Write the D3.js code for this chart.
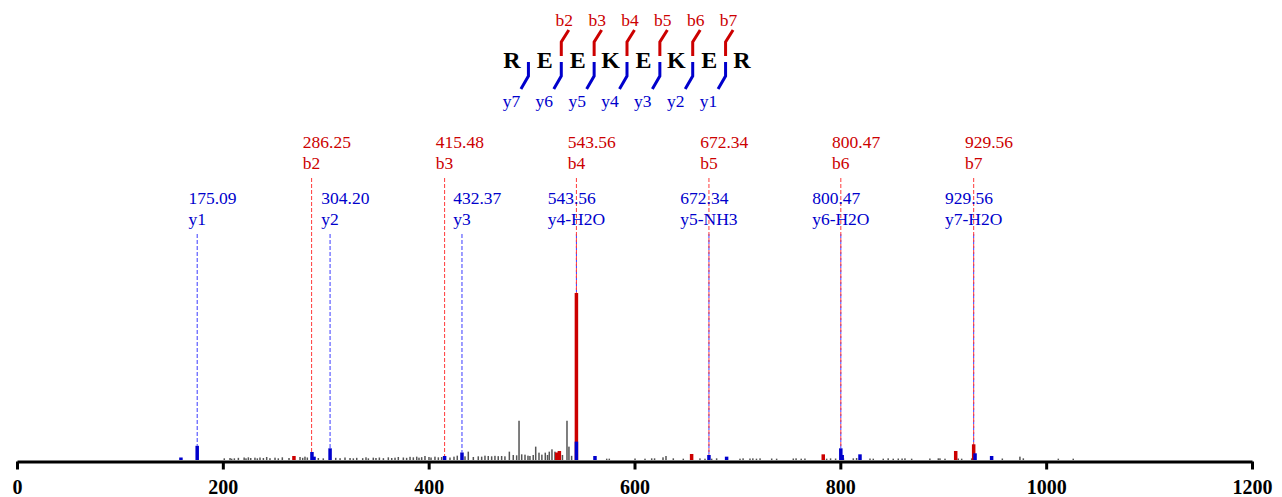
<!DOCTYPE html>
<html>
<head>
<meta charset="utf-8">
<script src="https://cdn.jsdelivr.net/npm/d3@7"></script>
<style>
  html, body { margin: 0; padding: 0; background: #fff; }
  svg { display: block; }
  text { font-family: "Liberation Serif", "Times New Roman", serif; }
</style>
</head>
<body>
<svg id="chart" width="1282" height="497"></svg>
<script>
// ---------- data ----------
const axisTicks = [0, 200, 400, 600, 800, 1000, 1200];

const residues = ["R", "E", "E", "K", "E", "K", "E", "R"];
const bHeaderLabels = ["b2", "b3", "b4", "b5", "b6", "b7"];
const bHeaderGaps = [1, 2, 3, 4, 5, 6];
const yHeaderLabels = ["y7", "y6", "y5", "y4", "y3", "y2", "y1"];
const yHeaderGaps = [0, 1, 2, 3, 4, 5, 6];

// annotated b ions (red)
const bMz = [286.25, 415.48, 543.56, 672.34, 800.47, 929.56];
const bNames = ["b2", "b3", "b4", "b5", "b6", "b7"];
const bLineInt = [4.8, 2.4, 100, 3.0, 7.0, 9.4];

// annotated y ions (blue)
const yMz = [175.09, 304.20, 432.37, 543.56, 672.34, 800.47, 929.56];
const yNames = ["y1", "y2", "y3", "y4-H2O", "y5-NH3", "y6-H2O", "y7-H2O"];
const yLineInt = [8.5, 7.0, 4.5, 11, 3.0, 7.0, 4.0];

// matched peaks
const redPeakMz  = [269.1, 524.5, 527.0, 543.56, 655.5, 783.4, 912.1, 929.56];
const redPeakInt = [2.4, 4.5, 5.4, 100, 3.6, 3.4, 5.4, 9.4];
const bluePeakMz  = [159.3, 175.09, 286.6, 288.6, 304.20, 415.48, 432.37, 543.56, 561.6, 672.34, 689.5, 800.47, 801.8, 819.1, 930.9, 947.0];
const bluePeakInt = [1.5, 8.5, 4.8, 2.0, 7.0, 2.4, 4.5, 11, 2.4, 3.0, 2.0, 7.0, 3.0, 3.4, 4.0, 2.4];

// unmatched peaks (grey)
const grayMz = [201.4, 207.0, 208.6, 211.2, 215.1, 220.7, 222.5, 224.8, 227.1, 231.2, 233.5, 236.1, 239.4, 242.6, 245.8, 250.7, 253.9, 257.8, 264.3, 275.0, 277.6, 279.8, 282.1, 292.8, 297.6, 309.7, 313.9, 318.7, 323.6, 326.8,
  330.1, 335.9, 339.1, 341.4, 346.2, 348.8, 352.1, 356.0, 360.8, 364.1, 367.3, 370.5, 375.4, 378.6, 381.9, 385.1, 388.4, 390.6, 393.2, 396.4, 400.3, 402.3, 406.1, 409.4, 412.6, 420.7, 424.6, 427.8,
  435.3, 438.5, 443.4, 448.2, 451.5, 454.7, 457.9, 461.2, 464.4, 467.6, 470.9, 474.1, 478.4, 482.2, 485.5, 487.8, 490.4, 493.6, 496.5, 498.4, 501.6, 504.0, 507.2, 510.0, 513.3, 515.5, 517.2, 519.8, 522.7, 530.0, 534.4, 536.3, 538.9,
  573.0, 575.5, 600.5, 610.2, 616.7, 619.5, 627.7, 630.6, 637.7, 647.4, 663.6, 668.5, 675.0, 679.8, 702.5, 705.5, 712.2, 715.0, 718.5, 722.0, 733.3, 738.1, 754.3, 757.0, 762.0, 765.6, 786.7, 790.5, 795.4, 803.0, 812.6, 815.8, 828.8, 832.0,
  841.7, 846.5, 851.4, 856.3, 860.0, 862.8, 869.3, 887.0, 895.2, 896.8, 901.7, 914.6, 917.9, 927.6, 957.4, 974.5, 977.8, 1011.8, 1026.3];
const grayInt = [1.0, 1.2, 0.8, 1.0, 1.3, 1.5, 1.0, 1.6, 1.2, 1.4, 1.0, 1.5, 1.2, 1.8, 1.1, 1.4, 1.0, 1.6, 1.2, 1.8, 1.3, 2.0, 1.5, 1.2, 1.0, 1.3, 1.1, 1.5, 1.2, 1.0,
  1.3, 1.1, 1.6, 1.0, 1.4, 1.2, 1.5, 1.1, 1.6, 1.2, 1.4, 1.8, 1.5, 1.3, 1.9, 1.6, 2.0, 1.4, 1.7, 2.4, 1.8, 1.5, 2.0, 1.6, 1.8, 1.5, 2.0, 2.6,
  2.2, 5.0, 1.8, 2.2, 2.0, 2.6, 2.4, 2.2, 2.5, 2.3, 2.4, 2.2, 5.0, 3.0, 2.8, 23.5, 3.4, 3.2, 2.6, 2.4, 3.0, 8.0, 4.4, 3.2, 4.4, 3.0, 5.0, 6.4, 5.0, 3.0, 23.5, 8.0, 2.5,
  0.8, 0.8, 0.9, 0.8, 1.0, 1.0, 1.6, 2.4, 1.0, 0.8, 1.0, 0.8, 0.8, 1.0, 0.8, 1.0, 0.9, 1.0, 0.8, 1.0, 0.9, 0.8, 0.9, 1.0, 0.8, 0.9, 0.8, 1.0, 0.9, 1.0, 1.0, 1.2, 0.9, 0.8,
  0.8, 1.0, 0.8, 0.9, 0.9, 1.0, 0.8, 0.9, 1.0, 1.0, 0.8, 0.9, 0.8, 1.0, 0.9, 2.0, 1.0, 0.8, 0.8];

// ---------- drawing ----------
const RED = "#cc0000", BLUE = "#0000cc", GRAY = "#555555";
const RED_DASH = "#ff3b3b", BLUE_DASH = "#3b3bff";
const LABEL_SIZE = 17.5;
const svg = d3.select("#chart");

const x = d3.scaleLinear().domain([0, 1200]).range([17, 1252]);
const y = d3.scaleLinear().domain([0, 100]).range([460, 293]);

// dashed annotation lines
const yLines = yMz.map((m, i) => ({ m, v: yLineInt[i] }));
svg.append("g").selectAll("line").data(yLines).join("line")
  .attr("x1", d => x(d.m)).attr("x2", d => x(d.m))
  .attr("y1", 234).attr("y2", d => y(d.v))
  .attr("stroke", BLUE_DASH).attr("stroke-width", 1).attr("stroke-dasharray", "4,2");

const bLines = bMz.map((m, i) => ({ m, v: bLineInt[i] }));
svg.append("g").selectAll("line").data(bLines).join("line")
  .attr("x1", d => x(d.m)).attr("x2", d => x(d.m))
  .attr("y1", 178).attr("y2", d => y(d.v))
  .attr("stroke", RED_DASH).attr("stroke-width", 1).attr("stroke-dasharray", "4,2");

// peaks
function drawPeaks(mz, ints, color, w) {
  svg.append("g").selectAll("rect").data(mz.map((m, i) => ({ m, v: ints[i] }))).join("rect")
    .attr("x", d => x(d.m) - w / 2).attr("width", w)
    .attr("y", d => y(d.v)).attr("height", d => y(0) - y(d.v))
    .attr("fill", color);
}
drawPeaks(grayMz, grayInt, GRAY, 1.5);
drawPeaks(redPeakMz, redPeakInt, RED, 3.5);
drawPeaks(bluePeakMz, bluePeakInt, BLUE, 3.5);

// annotation labels: block is centred on the ion-name text, value left-aligned with it
function labels(mzs, names, color, yVal, yName) {
  const g = svg.append("g").selectAll("g").data(mzs.map((m, i) => ({ m, n: names[i] }))).join("g");
  const nameT = g.append("text").attr("y", yName).attr("fill", color).attr("font-size", LABEL_SIZE).text(d => d.n);
  const valT = g.append("text").attr("y", yVal).attr("fill", color).attr("font-size", LABEL_SIZE).text(d => d.m.toFixed(2));
  nameT.each(function (d) { d.w = this.getComputedTextLength(); });
  nameT.attr("x", d => x(d.m) - d.w / 2);
  valT.attr("x", d => x(d.m) - d.w / 2);
}
labels(bMz, bNames, RED, 148, 169);
labels(yMz, yNames, BLUE, 204, 225);

// x axis
const axis = svg.append("g").attr("transform", "translate(0,461.5)")
  .call(d3.axisBottom(x).tickValues(axisTicks).tickFormat(d3.format("d")).tickSize(8).tickPadding(10).tickSizeOuter(0));
axis.select(".domain").attr("stroke", "#000").attr("stroke-width", 3);
axis.selectAll(".tick line").attr("stroke", "#000").attr("stroke-width", 3);
axis.selectAll(".tick text").attr("font-family", "'Liberation Serif', 'Times New Roman', serif")
  .attr("font-size", 20).attr("font-weight", "bold").attr("fill", "#000");

// peptide header
const px = d3.scalePoint().domain(d3.range(residues.length)).range([512, 742]);
const gapX = g => (px(g) + px(g + 1)) / 2;

svg.append("g").selectAll("text").data(residues).join("text")
  .attr("x", (d, i) => px(i)).attr("y", 68).attr("text-anchor", "middle")
  .attr("font-size", 24).attr("font-weight", "bold").attr("fill", "#000").text(d => d);

const bH = svg.append("g").selectAll("g").data(bHeaderGaps.map((g, i) => ({ g, n: bHeaderLabels[i] }))).join("g");
bH.append("path").attr("d", d => `M${gapX(d.g)},56 L${gapX(d.g)},42 L${gapX(d.g) + 7.5},30`)
  .attr("fill", "none").attr("stroke", RED).attr("stroke-width", 3);
bH.append("text").attr("x", d => gapX(d.g) + 3).attr("y", 26).attr("text-anchor", "middle")
  .attr("font-size", LABEL_SIZE).attr("fill", RED).text(d => d.n);

const yH = svg.append("g").selectAll("g").data(yHeaderGaps.map((g, i) => ({ g, n: yHeaderLabels[i] }))).join("g");
yH.append("path").attr("d", d => `M${gapX(d.g)},62 L${gapX(d.g)},76 L${gapX(d.g) - 7.5},89`)
  .attr("fill", "none").attr("stroke", BLUE).attr("stroke-width", 3);
yH.append("text").attr("x", d => gapX(d.g) - 17).attr("y", 107).attr("text-anchor", "middle")
  .attr("font-size", LABEL_SIZE).attr("fill", BLUE).text(d => d.n);
</script>
</body>
</html>
